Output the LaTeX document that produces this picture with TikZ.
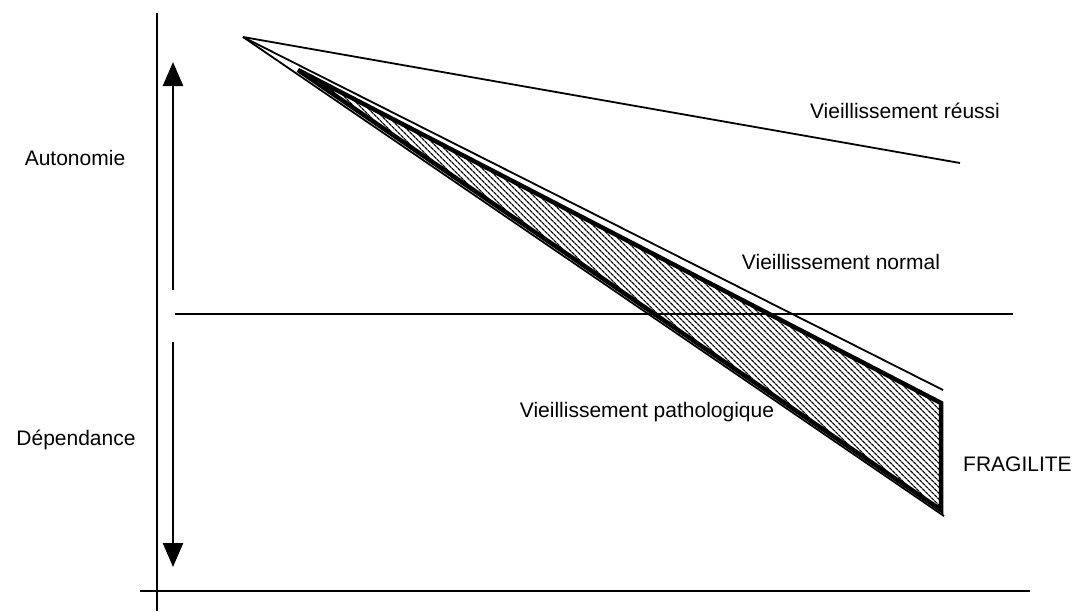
\documentclass[tikz,border=0pt]{standalone}
\usepackage{fontspec}
\setmainfont{Liberation Sans}
\usetikzlibrary{arrows.meta}
\usetikzlibrary{patterns.meta}

\begin{document}
\begin{tikzpicture}[x=1pt, y=-1pt, font=\fontsize{21}{25}\selectfont]
	\useasboundingbox (0,0) rectangle (1074,611);
	\coordinate (o) at (243, 37);
	\coordinate (reussi) at (960, 163);
	\coordinate (normal) at (943, 390);
	\coordinate (patho) at (944, 516);
	\coordinate (f1) at (298, 70);
	\coordinate (f2) at (941, 403);
	\coordinate (f3) at (941, 510);

	% axes
	\draw[line width=1.8pt] (157,13) -- (157,611);
	\draw[line width=1.8pt] (140,591) -- (1030,591);
	\draw[line width=1.8pt] (175,314) -- (1013,314);

	% arrows
	\draw[line width=2.5pt, -{Triangle[width=20pt,length=24pt]}] (173,290) -- (173,62);
	\draw[line width=2.5pt, -{Triangle[width=20pt,length=24pt]}] (173,342) -- (173,567);

	% courbes
	\draw[line width=1.8pt] (o)--(reussi);
	\draw[line width=1.8pt] (o)--(normal);
	\draw[line width=1.8pt] (o)--(patho);
	\draw[line width=4.5pt, line join=miter, pattern={Lines[angle=135, distance=4pt, line width=1.3pt]}]
		(f1)--(f2)--(f3)--cycle;

	\node (aut) at (75,158) {Autonomie};
	\node (dep) at (76,440) {Dépendance};
	\node (lr) at (905,111) {Vieillissement réussi};
	\node (ln) at (841,262) {Vieillissement normal};
	\node (lp) at (647,412) {Vieillissement pathologique};
	\node[anchor=west, inner sep=0pt] (lf) at (963,464) {FRAGILITE};
\end{tikzpicture}
\end{document}
